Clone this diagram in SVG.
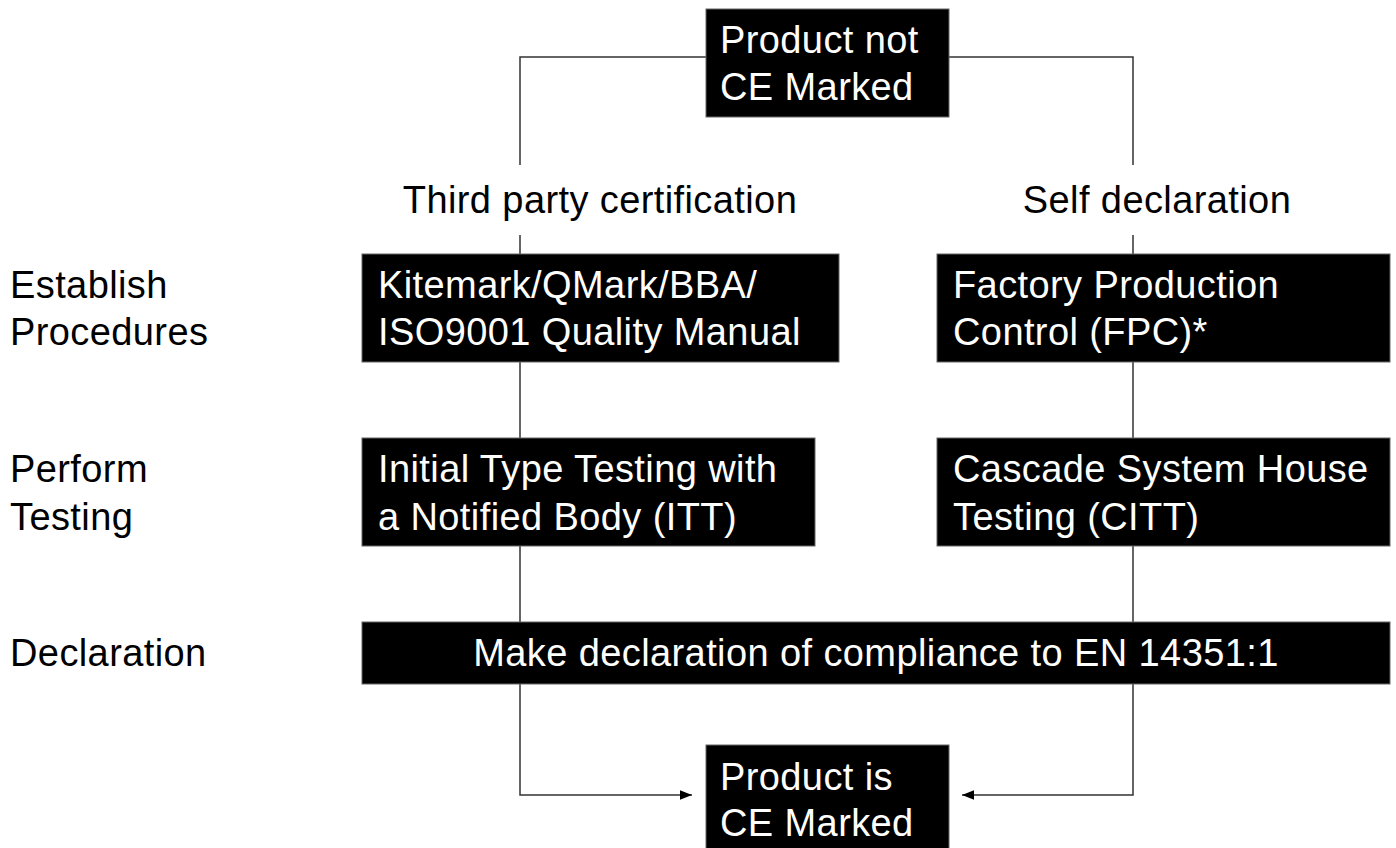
<svg xmlns="http://www.w3.org/2000/svg" width="1396" height="848" viewBox="0 0 1396 848">
<style>
text{font-family:"Liberation Sans",Arial,sans-serif;font-size:38px;letter-spacing:0.4px}
.box{fill:#000;stroke:#666;stroke-width:1}
.bt{fill:#fff}
.lbl{fill:#000}
.ln{fill:none;stroke:#333;stroke-width:1.5}
</style>
<defs>
<marker id="ah" viewBox="0 0 10 10" refX="10" refY="5" markerWidth="14" markerHeight="12" markerUnits="userSpaceOnUse" orient="auto">
<path d="M0,1 L10,5 L0,9 z" fill="#000"/>
</marker>
</defs>
<rect width="1396" height="848" fill="#fff"/>
<g id="connectors">
<path class="ln" d="M706,57 H520 V165"/>
<path class="ln" d="M949,57 H1133 V165"/>
<path class="ln" d="M520,235 V254"/>
<path class="ln" d="M1133,235 V254"/>
<path class="ln" d="M520,362 V438"/>
<path class="ln" d="M1133,362 V438"/>
<path class="ln" d="M520,546 V622"/>
<path class="ln" d="M1133,546 V622"/>
<path class="ln" d="M520,684 V795 H692" marker-end="url(#ah)"/>
<path class="ln" d="M1133,684 V795 H962" marker-end="url(#ah)"/>
</g>
<g id="labels">
<text class="lbl" x="600" y="213" text-anchor="middle">Third party certification</text>
<text class="lbl" x="1157" y="213" text-anchor="middle">Self declaration</text>
<text class="lbl" x="10" y="298">Establish</text>
<text class="lbl" x="10" y="345">Procedures</text>
<text class="lbl" x="10" y="482">Perform</text>
<text class="lbl" x="10" y="530">Testing</text>
<text class="lbl" x="10" y="666">Declaration</text>
</g>
<g id="start">
<rect class="box" x="706" y="9" width="243" height="108"/>
<text class="bt" x="720" y="53">Product not</text>
<text class="bt" x="720" y="100">CE Marked</text>
</g>
<g id="kitemark">
<rect class="box" x="362" y="254" width="477" height="108"/>
<text class="bt" x="378" y="298">Kitemark/QMark/BBA/</text>
<text class="bt" x="378" y="345">ISO9001 Quality Manual</text>
</g>
<g id="fpc">
<rect class="box" x="937" y="254" width="453" height="108"/>
<text class="bt" x="953" y="298">Factory Production</text>
<text class="bt" x="953" y="345">Control (FPC)*</text>
</g>
<g id="itt">
<rect class="box" x="362" y="438" width="453" height="108"/>
<text class="bt" x="378" y="482">Initial Type Testing with</text>
<text class="bt" x="378" y="530">a Notified Body (ITT)</text>
</g>
<g id="citt">
<rect class="box" x="937" y="438" width="453" height="108"/>
<text class="bt" x="953" y="482">Cascade System House</text>
<text class="bt" x="953" y="530">Testing (CITT)</text>
</g>
<g id="declaration">
<rect class="box" x="362" y="622" width="1028" height="62"/>
<text class="bt" x="876" y="666" text-anchor="middle">Make declaration of compliance to EN 14351:1</text>
</g>
<g id="end">
<rect class="box" x="706" y="745" width="243" height="110"/>
<text class="bt" x="720" y="790">Product is</text>
<text class="bt" x="720" y="836">CE Marked</text>
</g>
</svg>
